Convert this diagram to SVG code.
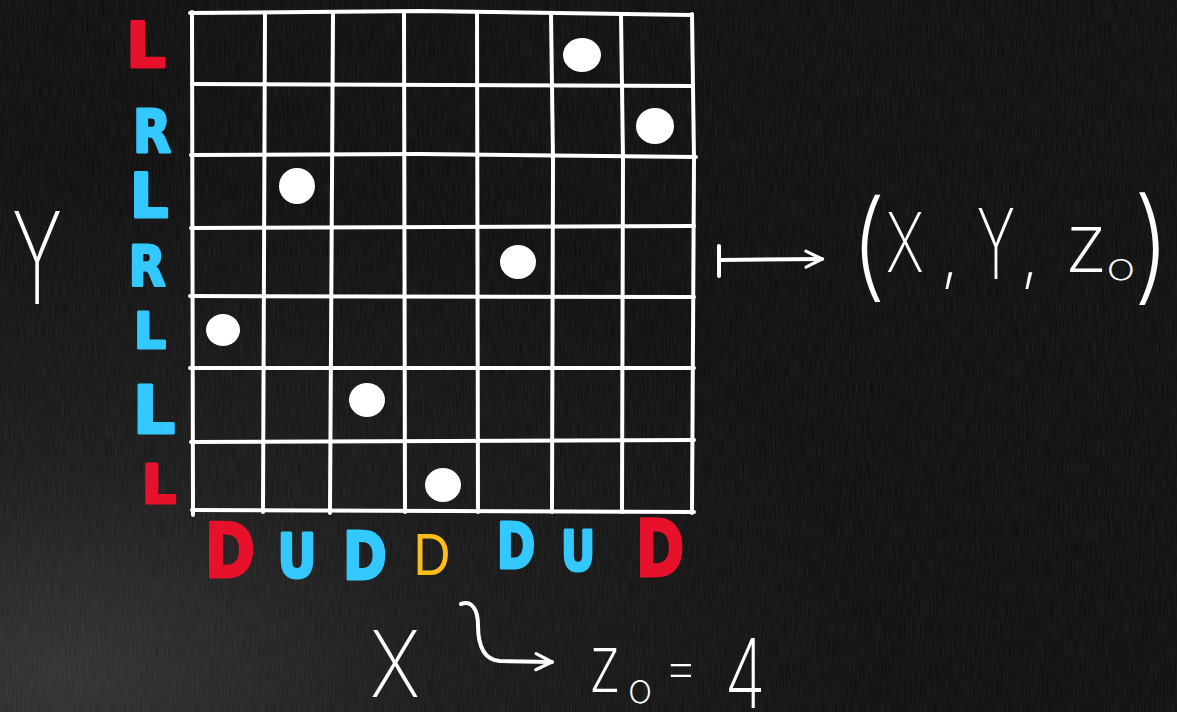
<svg xmlns="http://www.w3.org/2000/svg" width="1177" height="712" viewBox="0 0 1177 712">
<defs>
<radialGradient id="bgl" cx="0.05" cy="0.95" r="0.7">
<stop offset="0" stop-color="#2e2e2e"/>
<stop offset="0.45" stop-color="#161616"/>
<stop offset="1" stop-color="#0b0b0b"/>
</radialGradient>
<filter id="chalk" x="0" y="0" width="100%" height="100%">
<feTurbulence type="fractalNoise" baseFrequency="0.9 0.05" numOctaves="2" seed="3"/>
<feColorMatrix type="matrix" values="0 0 0 0 1  0 0 0 0 1  0 0 0 0 1  0 0 0 0.09 0"/>
</filter>
<marker id="ah" viewBox="0 0 10 10" refX="9" refY="5" markerWidth="5" markerHeight="5" orient="auto" markerUnits="strokeWidth">
<path d="M1,1 L9,5 L1,9" fill="none" stroke="#fff" stroke-width="1.6" stroke-linecap="round" stroke-linejoin="round"/>
</marker>
</defs>
<style>
.grid{fill:none;stroke:#fff;stroke-width:4;stroke-linecap:round;stroke-linejoin:round}
.dot{fill:#fff}
.bold{font-family:"DejaVu Sans",sans-serif;font-weight:bold;text-anchor:middle;stroke-width:3;stroke-linejoin:round;paint-order:stroke}
.red{fill:#e8112b;stroke:#e8112b}
.blue{fill:#33c8ff;stroke:#33c8ff}
.orange{fill:#ffbf1a;font-family:"Liberation Sans",sans-serif;text-anchor:middle}
.hand{fill:#fff;font-family:"Inter","Liberation Sans",sans-serif;font-weight:200;text-anchor:middle}
.conn{fill:none;stroke:#fff;stroke-width:4;stroke-linecap:round;stroke-linejoin:round}
</style>
<rect width="1177" height="712" fill="url(#bgl)"/>
<rect width="1177" height="712" filter="url(#chalk)"/>

<g id="grid">
<path class="grid" d="M192,12 L193,515"/>
<path class="grid" d="M265,13 L263,512"/>
<path class="grid" d="M333,13 L330,513"/>
<path class="grid" d="M404,13 L405,512"/>
<path class="grid" d="M477,13 L478,512"/>
<path class="grid" d="M551,13 L553,160 L552,512"/>
<path class="grid" d="M621,14 L623,160 L622,512"/>
<path class="grid" d="M692,14 L694,160 L692,513"/>
<path class="grid" d="M190,13 L420,11 L692,15"/>
<path class="grid" d="M192,84 L692,86"/>
<path class="grid" d="M191,155 L420,154 L696,157"/>
<path class="grid" d="M191,228 L694,226"/>
<path class="grid" d="M190,296 L694,297"/>
<path class="grid" d="M190,368 L694,368"/>
<path class="grid" d="M191,442 L694,440"/>
<path class="grid" d="M192,510 L694,512"/>
</g>

<g id="dots">
<ellipse class="dot" cx="582" cy="55" rx="19" ry="17"/>
<ellipse class="dot" cx="655" cy="126" rx="19" ry="18"/>
<ellipse class="dot" cx="297" cy="186" rx="18" ry="18"/>
<ellipse class="dot" cx="518" cy="262" rx="18" ry="17"/>
<ellipse class="dot" cx="223" cy="330" rx="17" ry="16"/>
<ellipse class="dot" cx="367" cy="400" rx="18" ry="17"/>
<ellipse class="dot" cx="443" cy="485" rx="18" ry="17"/>
</g>

<g id="row-labels">
<text class="bold red" x="146" y="67" font-size="62">L</text>
<text class="bold blue" x="152" y="152" font-size="58" transform="translate(152 152) scale(0.85 1) translate(-152 -152)">R</text>
<text class="bold blue" x="149" y="217" font-size="60">L</text>
<text class="bold blue" x="147" y="285" font-size="56" transform="translate(147 285) scale(0.85 1) translate(-147 -285)">R</text>
<text class="bold blue" x="150" y="348" font-size="50">L</text>
<text class="bold blue" x="154" y="433" font-size="66">L</text>
<text class="bold red" x="159" y="503" font-size="54">L</text>
</g>

<g id="col-labels">
<text class="bold red" x="230" y="577" font-size="74" transform="translate(230 577) scale(0.82 1) translate(-230 -577)">D</text>
<text class="bold blue" x="297" y="577" font-size="60" transform="translate(297 577) scale(0.8 1) translate(-297 -577)">U</text>
<text class="bold blue" x="365" y="579" font-size="66" transform="translate(365 579) scale(0.8 1) translate(-365 -579)">D</text>
<text class="orange" x="432" y="575" font-size="60" transform="translate(432 575) scale(0.85 1) translate(-432 -575)">D</text>
<text class="bold blue" x="516" y="568" font-size="62" transform="translate(516 568) scale(0.75 1) translate(-516 -568)">D</text>
<text class="bold blue" x="578" y="570" font-size="56" transform="translate(578 570) scale(0.75 1) translate(-578 -570)">U</text>
<text class="bold red" x="660" y="576" font-size="78" transform="translate(660 576) scale(0.75 1) translate(-660 -576)">D</text>
</g>

<g id="axis-y">
<text class="hand" x="37" y="304" font-size="128" transform="translate(37 304) scale(0.6 1) translate(-37 -304)">Y</text>
</g>

<g id="axis-x">
<text class="hand" x="395" y="697" font-size="92" transform="translate(395 697) scale(0.85 1) translate(-395 -697)">X</text>
</g>

<g id="tuple">
<text class="hand" x="868" y="286" font-size="118">(</text>
<text class="hand" x="905" y="272" font-size="82" transform="translate(905 272) scale(0.72 1) translate(-905 -272)">X</text>
<text class="hand" x="950" y="278" font-size="70">,</text>
<text class="hand" x="996" y="279" font-size="98" transform="translate(996 279) scale(0.6 1) translate(-996 -279)">Y</text>
<text class="hand" x="1030" y="278" font-size="70">,</text>
<text class="hand" x="1086" y="272" font-size="82">z</text>
<text class="hand" x="1121" y="280" font-size="37" transform="translate(1121 280) scale(1.35 1) translate(-1121 -280)">o</text>
<text class="hand" x="1152" y="288" font-size="124">)</text>
</g>

<g id="z-value">
<text class="hand" x="605" y="692" font-size="80" transform="translate(605 692) scale(0.78 1) translate(-605 -692)">z</text>
<text class="hand" x="640" y="703" font-size="42">o</text>
<text class="hand" x="681" y="686" font-size="54">=</text>
<text class="hand" x="745" y="708" font-size="96" transform="translate(745 708) scale(0.7 1) translate(-745 -708)">4</text>
</g>

<g id="connectors">
<path class="conn" d="M719,246 L719,276"/>
<path class="conn" d="M719,260 L822,259" marker-end="url(#ah)"/>
<path class="conn" d="M461,604 C472,600 478,610 478,625 C478,645 484,660 500,661 L552,662" marker-end="url(#ah)"/>
</g>
</svg>
